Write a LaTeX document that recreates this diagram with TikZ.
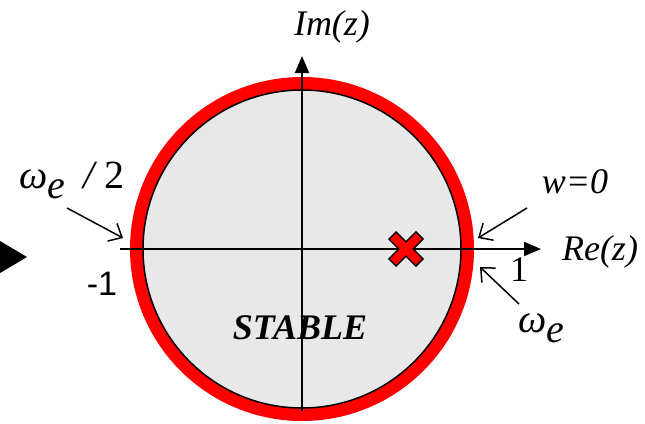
\documentclass[tikz,border=0pt]{standalone}
\usepackage{fontspec}
\setmainfont{Liberation Serif}
\newfontfamily\arialfont{Liberation Sans}
\usetikzlibrary{arrows.meta}
\definecolor{RingRed}{RGB}{255,0,0}
\definecolor{DiskGray}{RGB}{232,232,232}
\newcommand\omegae{ω\raisebox{-10pt}{e}}
\tikzset{
  axis/.style={line width=2pt, -{Triangle[length=17pt,width=14pt]}},
  lbl/.style={font=\fontsize{36}{40}\selectfont\itshape, inner sep=0pt},
  omlbl/.style={lbl, font=\fontsize{40}{44}\selectfont\itshape, anchor=base west},
  ptr/.style={-{Straight Barb[length=11pt,width=20pt]}, line width=1.5pt},
  polearm/.style={draw=black, line width=1.6pt, fill=RingRed},
}

\begin{document}
\begin{tikzpicture}[x=1pt, y=-1pt]
    \useasboundingbox (0,0) rectangle (645,423);
    \coordinate (o) at (302,249);
    % unit disc
    \fill[DiskGray] (o) circle (159pt);
    \draw[RingRed, line width=13pt] (o) circle (165.5pt);
    \draw[line width=1.5pt] (o) circle (159pt);
    % axes
    \coordinate (xl) at (120,249); \coordinate (xr) at (541,249);
    \coordinate (yb) at (302,411); \coordinate (yt) at (302,56);
    \draw[axis] (xl) -- (xr);
    \draw[axis] (yb) -- (yt);
    \node[lbl] (re) at (600,252) {Re(z)};
    \node[lbl] (im) at (332,27) {Im(z)};
    \node[lbl, font=\fontsize{36}{40}\selectfont\bfseries\itshape] (stable) at (300,328) {STABLE};
    \node[lbl, font=\fontsize{34}{40}\arialfont] (m1) at (102,284) {-1};
    \node[lbl, font=\fontsize{36}{40}\selectfont] (p1) at (519,270) {1};
    % pole
    \foreach \a in {45,-45}
      \draw[polearm, shift={(406,249)}, rotate=\a] (-19,-5) rectangle (19,5);
    \foreach \a in {45,-45}
      \fill[RingRed, shift={(406,249)}, rotate=\a] (-18.2,-4.2) rectangle (18.2,4.2);
    % frequency markers
    \node[omlbl] (half) at (19,188) {\omegae\hspace{18pt}/ \upshape 2};
    \node[lbl] (w0) at (575,182) {w=0};
    \node[omlbl] (we) at (518,332) {\omegae};
    \coordinate (halfs) at (67,208); \coordinate (halft) at (123,238);
    \coordinate (w0s) at (527,208);  \coordinate (w0t) at (478,238);
    \coordinate (wes) at (519,304);  \coordinate (wet) at (480,267);
    \draw[ptr] (halfs) -- (halft);
    \draw[ptr] (w0s) -- (w0t);
    \draw[ptr] (wes) -- (wet);
    % input marker
    \fill (0,241) -- (27,257) -- (0,273) -- cycle;
\end{tikzpicture}
\end{document}
